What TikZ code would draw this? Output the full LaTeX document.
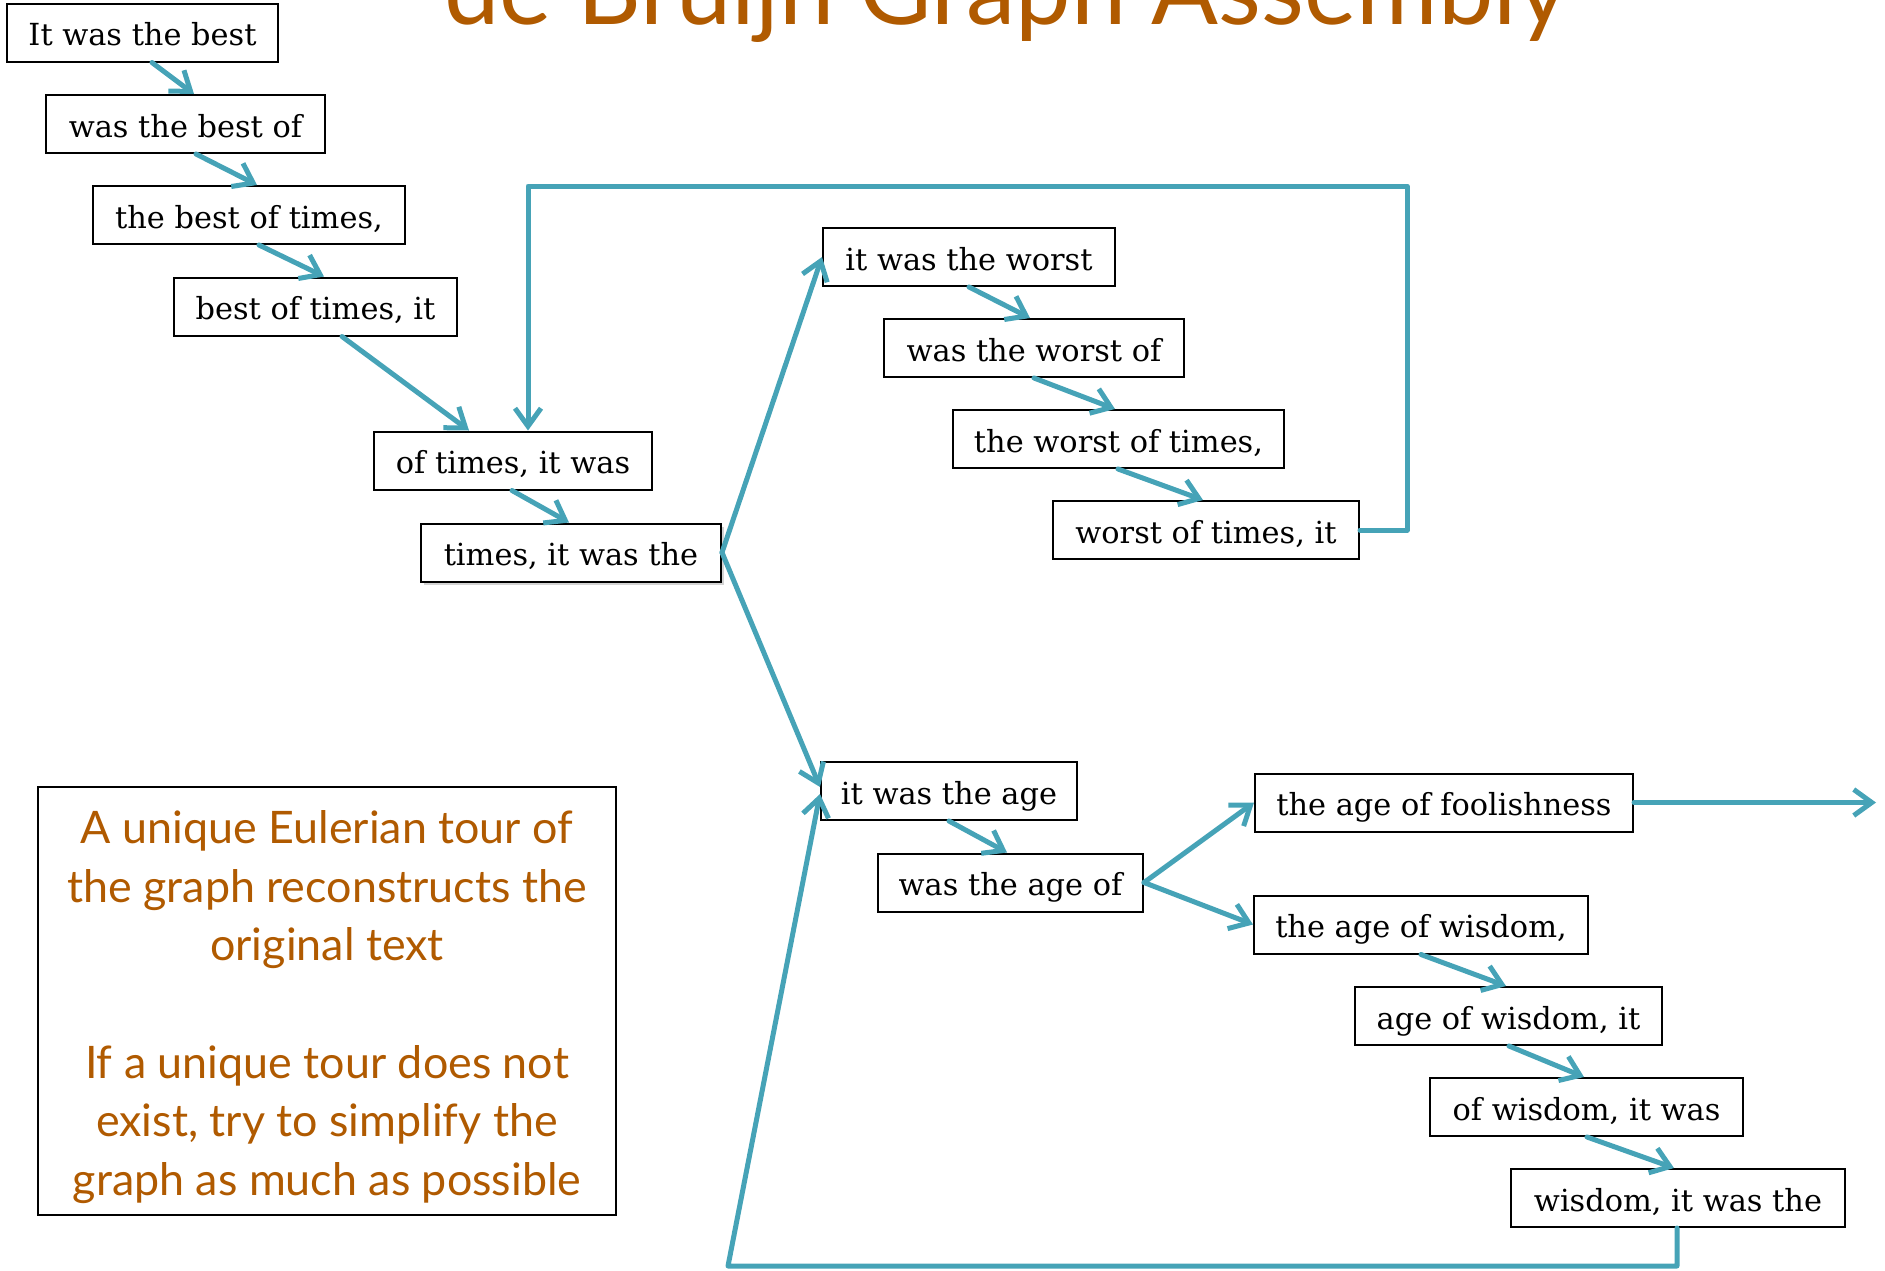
\documentclass[tikz,border=0pt]{standalone}
\usepackage{fontspec}
\setmainfont{DejaVu Serif}
\newfontfamily\gillfont{Lato}
\usetikzlibrary{arrows.meta,calc,shadows}
\definecolor{edgeblue}{HTML}{46A3B7}
\definecolor{rust}{HTML}{B05A00}
\begin{document}
\begin{tikzpicture}[x=0.5pt,y=-0.5pt,
  kbox/.style={draw=black, line width=1pt, fill=white, inner sep=0pt,
    minimum height=29pt, minimum width=#1*0.5pt,
    text height=13.5pt, text depth=0.5pt,
    font=\fontsize{15.2}{17}\selectfont, text=black},
  edge/.style={draw=edgeblue, line width=2.5pt, line cap=round, line join=round,
    -{Straight Barb[length=9pt,width=13pt]}},
]
\useasboundingbox (0,0) rectangle (1885,1270);
\clip (0,0) rectangle (1885,1270);

% title (cut off at the top)
\node[anchor=base west, inner sep=0pt, text=rust,
  font=\gillfont\fontsize{49.5}{50}\selectfont] (title) at (444,24) {de Bruijn Graph Assembly};

% k-mer boxes
\node[kbox=271] (b1) at (142.5,32.5) {It was the best};
\node[kbox=279] (b2) at (185.5,124) {was the best of};
\node[kbox=312] (b3) at (249,215) {the best of times,};
\node[kbox=283] (b4) at (315.5,306.5) {best of times, it};
\node[kbox=278] (b5) at (513,460.5) {of times, it was};
\node[kbox=300, drop shadow={shadow xshift=1.5pt, shadow yshift=-1.5pt, opacity=0.35}] (b6) at (571,552.5) {times, it was the};

\node[kbox=292] (w1) at (969,257) {it was the worst};
\node[kbox=300] (w2) at (1034,348) {was the worst of};
\node[kbox=331] (w3) at (1118.5,439) {the worst of times,};
\node[kbox=306] (w4) at (1206,530) {worst of times, it};

\node[kbox=256] (a1) at (949,791) {it was the age};
\node[kbox=265] (a2) at (1010.5,882.5) {was the age of};
\node[kbox=378] (f)  at (1444,802.5) {the age of foolishness};

\node[kbox=334] (wi1) at (1421,924.5) {the age of wisdom,};
\node[kbox=307] (wi2) at (1508.5,1016) {age of wisdom, it};
\node[kbox=313] (wi3) at (1586.5,1107) {of wisdom, it was};
\node[kbox=334] (wi4) at (1678,1198) {wisdom, it was the};

% note box
\node[draw=black, line width=1pt, minimum width=289pt, minimum height=214pt,
  inner sep=0pt] (note) at (327,1001) {};
\node[align=center, text=rust, inner sep=0pt,
  font=\gillfont\fontsize{22.4}{29.3}\selectfont] (notetext) at (327,1007)
  {A unique Eulerian tour of\\the graph reconstructs the\\original text\\[29.3pt]If a unique tour does not\\exist, try to simplify the\\graph as much as possible};

% connectors: first chain
\draw[edge] ($(b1.south west)+(146,0)$) -- ($(b2.north west)+(149,0)$);
\draw[edge] ($(b2.south west)+(151,0)$) -- ($(b3.north west)+(165,0)$);
\draw[edge] ($(b3.south west)+(167,0)$) -- ($(b4.north west)+(151,0)$);
\draw[edge] ($(b4.south west)+(169,0)$) -- ($(b5.north west)+(96,0)$);
\draw[edge] ($(b5.south west)+(139,0)$) -- ($(b6.north west)+(149,0)$);

% worst chain
\draw[edge] ($(w1.south west)+(147,0)$) -- ($(w2.north west)+(147,0)$);
\draw[edge] ($(w2.south west)+(151,0)$) -- ($(w3.north west)+(163,0)$);
\draw[edge] ($(w3.south west)+(166,0)$) -- ($(w4.north west)+(151,0)$);

% age / wisdom chain
\draw[edge] ($(a1.south west)+(129,0)$) -- ($(a2.north west)+(130,0)$);
\draw[edge] ($(wi1.south west)+(168,0)$) -- ($(wi2.north west)+(152,0)$);
\draw[edge] ($(wi2.south west)+(155,0)$) -- ($(wi3.north west)+(155,0)$);
\draw[edge] ($(wi3.south west)+(158,0)$) -- ($(wi4.north west)+(164,0)$);

% forks
\draw[edge] (b6.east) -- (w1.west);
\draw[edge] (b6.east) -- ($(a1.west)+(0,-4)$);
\draw[edge] (a2.east) -- (f.west);
\draw[edge] (a2.east) -- (wi1.west);
\coordinate (fout) at (1876,802.5);
\draw[edge] (f.east) -- (fout);

% loops
\coordinate (loopin) at ($(b5.north west)+(155,0)$);
\coordinate (loopcorner) at (1407,186);
\draw[edge] (w4.east) -| (loopcorner) -| (loopin);
\coordinate (botcorner) at (728,1266);
\draw[edge] ($(wi4.south west)+(167,0)$) |- (botcorner) -- ($(a1.west)+(0,3)$);
\end{tikzpicture}
\end{document}
